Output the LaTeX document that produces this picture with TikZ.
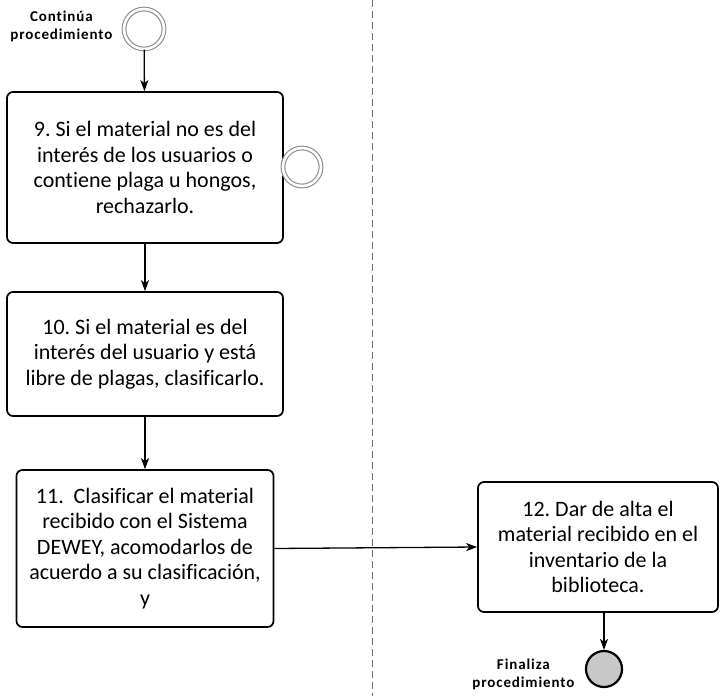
\documentclass[tikz,border=0pt]{standalone}
\usepackage{fontspec}
\setmainfont{Carlito}[Ligatures=NoCommon]
\usetikzlibrary{positioning,arrows.meta}
\definecolor{LaneGray}{HTML}{6E6E6E}
\definecolor{RingGray}{HTML}{8C8C8C}
\definecolor{EndFill}{HTML}{C8C8C8}
\frenchspacing

\begin{document}
\begin{tikzpicture}[x=1pt,y=-1pt,>={Stealth[length=11pt,width=8pt,inset=3pt]}]
  \tikzstyle{task}=[draw=black,line width=1.7pt,rounded corners=6pt,
    fill=white,align=center,inner sep=0pt,
    font=\fontsize{22}{25.5}\selectfont]
  \tikzstyle{ring}=[circle,draw=RingGray,line width=1.1pt,double=white,
    double distance=2.6pt,inner sep=0pt,fill=white]
  \tikzstyle{note}=[align=center,
    font=\fontsize{15}{18}\selectfont\bfseries\addfontfeatures{LetterSpace=6}]
  \tikzstyle{flow}=[->,line width=1.3pt]
  \useasboundingbox (0,0) rectangle (720,696);
  % lane separator
  \draw[LaneGray,line width=1pt,dash pattern=on 7pt off 4pt]
    (372,0) -- (372,696);
  \node[ring,minimum size=40pt] (start) at (144,29) {};
  \node[note,anchor=east] (startlbl) at (116,26) {Continúa\\procedimiento};
  \node[task,minimum width=276pt,minimum height=151pt] (b9) at (145,167.5)
    {9. Si el material no es del\\interés de los usuarios o\\contiene plaga u
    hongos,\\rechazarlo.};
  \node[ring,minimum size=38pt] (bound) at (302,167) {};
  \node[task,minimum width=276pt,minimum height=124pt] (b10) at (145,354)
    {10. Si el material es del\\interés del usuario y está\\libre de plagas,
    clasificarlo.};
  \node[task,minimum width=257pt,minimum height=157pt] (b11) at (145,548.5)
    {11.\ \ Clasificar el material\\recibido con el Sistema\\DEWEY,
    acomodarlos de\\acuerdo a su clasificación,\\y};
  \node[task,minimum width=240pt,minimum height=130pt] (b12) at (598,547)
    {12. Dar de alta el\\material recibido en el\\inventario de la\\biblioteca.};
  \node[circle,draw=black,line width=2.2pt,fill=EndFill,minimum size=36pt,
    inner sep=0pt] (end) at (604,669) {};
  \node[note,anchor=east] (endlbl) at (578,674) {Finaliza\\procedimiento};
  \draw[flow] (start) -- (b9);
  \draw[flow] (b9) -- (b10);
  \draw[flow] (b10) -- (b11);
  \draw[flow] (b11.east) -- (b12.west);
  \draw[flow] (end |- b12.south) -- (end);
\end{tikzpicture}
\end{document}
